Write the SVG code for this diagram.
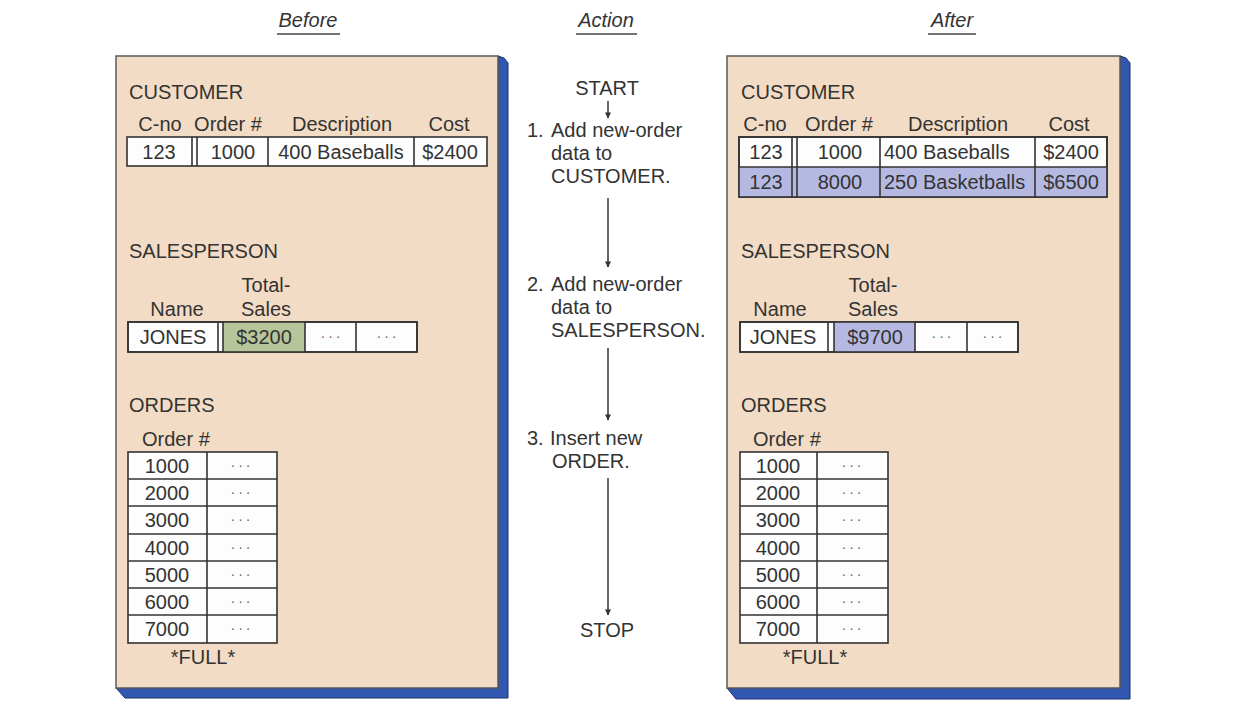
<svg xmlns="http://www.w3.org/2000/svg" width="1254" height="702" viewBox="0 0 1254 702">
<defs>
<style>
text{font-family:"Liberation Sans",Arial,sans-serif;font-size:20px;fill:#333}
.c{text-anchor:middle}
.hd{font-style:italic;text-anchor:middle}
.dots{font-size:14px;fill:#666;text-anchor:middle;letter-spacing:3px}
.front{fill:#f3dcc5;stroke:#5a5a5a;stroke-width:1.5}
.side{fill:#3158b0;stroke:#1d2f6a;stroke-width:1}
.cell{fill:#fdfdfd;stroke:#333;stroke-width:1.6}
.ln{stroke:#333;stroke-width:1.6}
.grn{fill:#b7c59b}
.blu{fill:#b5b9e2}
.ul{stroke:#444;stroke-width:1.3}
.arr{stroke:#333;stroke-width:1.5;fill:none;marker-end:url(#ah)}
</style>
<marker id="ah" viewBox="0 0 10 10" refX="9" refY="5" markerWidth="10" markerHeight="6" markerUnits="userSpaceOnUse" orient="auto" overflow="visible">
<path d="M0,0 L10,5 L0,10 z" fill="#333"/>
</marker>
</defs>
<rect width="1254" height="702" fill="#ffffff"/>

<g id="headers">
<text class="hd" x="308" y="27">Before</text>
<line class="ul" x1="277" y1="34" x2="340" y2="34"/>
<text class="hd" x="606" y="27">Action</text>
<line class="ul" x1="576" y1="34" x2="637" y2="34"/>
<text class="hd" x="952" y="27">After</text>
<line class="ul" x1="928" y1="34" x2="976" y2="34"/>
</g>

<g id="before-panel">
<path class="side" d="M498,56 L504,58 L508,63 L508,698 L125,698 L116,688 L498,688 Z"/>
<rect class="front" x="116" y="56" width="382" height="632"/>
</g>

<g id="before-customer">
<text x="129" y="99">CUSTOMER</text>
<text class="c" x="160" y="131">C-no</text>
<text class="c" x="228" y="131">Order #</text>
<text class="c" x="342" y="131">Description</text>
<text class="c" x="449" y="131">Cost</text>
<rect class="cell" x="127" y="137" width="360" height="29"/>
<line class="ln" x1="192" y1="137" x2="192" y2="166"/>
<line class="ln" x1="197" y1="137" x2="197" y2="166"/>
<line class="ln" x1="268" y1="137" x2="268" y2="166"/>
<line class="ln" x1="414" y1="137" x2="414" y2="166"/>
<text class="c" x="159" y="159">123</text>
<text class="c" x="233" y="159">1000</text>
<text class="c" x="341" y="159">400 Baseballs</text>
<text class="c" x="450" y="159">$2400</text>
</g>

<g id="before-salesperson">
<text x="129" y="258">SALESPERSON</text>
<text class="c" x="266" y="292">Total-</text>
<text class="c" x="177" y="316">Name</text>
<text class="c" x="266" y="316">Sales</text>
<rect class="cell" x="128" y="322" width="289" height="30"/>
<rect class="grn" x="223" y="322" width="82" height="30"/>
<rect x="128" y="322" width="289" height="30" fill="none" stroke="#333" stroke-width="1.6"/>
<line class="ln" x1="218" y1="322" x2="218" y2="352"/>
<line class="ln" x1="223" y1="322" x2="223" y2="352"/>
<line class="ln" x1="305" y1="322" x2="305" y2="352"/>
<line class="ln" x1="356" y1="322" x2="356" y2="352"/>
<text class="c" x="173" y="344">JONES</text>
<text class="c" x="264" y="344">$3200</text>
<text class="dots" x="332" y="341">···</text>
<text class="dots" x="388" y="341">···</text>
</g>

<g id="before-orders">
<text x="129" y="412">ORDERS</text>
<text x="142" y="446">Order #</text>
<rect class="cell" x="128" y="452" width="149" height="191"/>
<line class="ln" x1="207" y1="452" x2="207" y2="643"/>
<line class="ln" x1="128" y1="479" x2="277" y2="479"/>
<line class="ln" x1="128" y1="506" x2="277" y2="506"/>
<line class="ln" x1="128" y1="534" x2="277" y2="534"/>
<line class="ln" x1="128" y1="561" x2="277" y2="561"/>
<line class="ln" x1="128" y1="588" x2="277" y2="588"/>
<line class="ln" x1="128" y1="615" x2="277" y2="615"/>
<text class="c" x="167" y="473">1000</text>
<text class="c" x="167" y="500">2000</text>
<text class="c" x="167" y="527">3000</text>
<text class="c" x="167" y="555">4000</text>
<text class="c" x="167" y="582">5000</text>
<text class="c" x="167" y="609">6000</text>
<text class="c" x="167" y="636">7000</text>
<text class="dots" x="242" y="470">···</text>
<text class="dots" x="242" y="497">···</text>
<text class="dots" x="242" y="524">···</text>
<text class="dots" x="242" y="552">···</text>
<text class="dots" x="242" y="579">···</text>
<text class="dots" x="242" y="606">···</text>
<text class="dots" x="242" y="633">···</text>
<text class="c" x="203" y="664">*FULL*</text>
</g>

<g id="action">
<text class="c" x="607" y="95">START</text>
<text x="527" y="137">1.</text>
<text x="551" y="137">Add new-order</text>
<text x="551" y="160">data to</text>
<text x="551" y="183">CUSTOMER.</text>
<text x="527" y="291">2.</text>
<text x="551" y="291">Add new-order</text>
<text x="551" y="314">data to</text>
<text x="551" y="337">SALESPERSON.</text>
<text x="527" y="445">3.</text>
<text x="550" y="445">Insert new</text>
<text x="552" y="468">ORDER.</text>
<text class="c" x="607" y="637">STOP</text>
</g>

<g id="connectors">
<line class="arr" x1="608" y1="101" x2="608" y2="118"/>
<line class="arr" x1="608" y1="198" x2="608" y2="267"/>
<line class="arr" x1="608" y1="348" x2="608" y2="420"/>
<line class="arr" x1="608" y1="478" x2="608" y2="615"/>
</g>

<g id="after-panel">
<path class="side" d="M1120,56 L1126,58 L1130,63 L1130,699 L736,699 L727,688 L1120,688 Z"/>
<rect class="front" x="727" y="56" width="393" height="632"/>
</g>

<g id="after-customer">
<text x="741" y="99">CUSTOMER</text>
<text class="c" x="765" y="131">C-no</text>
<text class="c" x="839" y="131">Order #</text>
<text class="c" x="958" y="131">Description</text>
<text class="c" x="1069" y="131">Cost</text>
<rect class="cell" x="739" y="137" width="368" height="60"/>
<rect class="blu" x="739" y="167" width="368" height="30"/>
<rect x="739" y="137" width="368" height="60" fill="none" stroke="#333" stroke-width="1.6"/>
<line class="ln" x1="739" y1="167" x2="1107" y2="167"/>
<line class="ln" x1="792" y1="137" x2="792" y2="197"/>
<line class="ln" x1="797" y1="137" x2="797" y2="197"/>
<line class="ln" x1="880" y1="137" x2="880" y2="197"/>
<line class="ln" x1="1035" y1="137" x2="1035" y2="197"/>
<text class="c" x="766" y="159">123</text>
<text class="c" x="840" y="159">1000</text>
<text x="884" y="159">400 Baseballs</text>
<text class="c" x="1071" y="159">$2400</text>
<text class="c" x="766" y="189">123</text>
<text class="c" x="840" y="189">8000</text>
<text x="884" y="189">250 Basketballs</text>
<text class="c" x="1071" y="189">$6500</text>
</g>

<g id="after-salesperson">
<text x="741" y="258">SALESPERSON</text>
<text class="c" x="873" y="292">Total-</text>
<text class="c" x="780" y="316">Name</text>
<text class="c" x="873" y="316">Sales</text>
<rect class="cell" x="740" y="322" width="278" height="30"/>
<rect class="blu" x="834" y="322" width="81" height="30"/>
<rect x="740" y="322" width="278" height="30" fill="none" stroke="#333" stroke-width="1.6"/>
<line class="ln" x1="828" y1="322" x2="828" y2="352"/>
<line class="ln" x1="834" y1="322" x2="834" y2="352"/>
<line class="ln" x1="915" y1="322" x2="915" y2="352"/>
<line class="ln" x1="967" y1="322" x2="967" y2="352"/>
<text class="c" x="783" y="344">JONES</text>
<text class="c" x="875" y="344">$9700</text>
<text class="dots" x="943" y="341">···</text>
<text class="dots" x="994" y="341">···</text>
</g>

<g id="after-orders">
<text x="741" y="412">ORDERS</text>
<text x="753" y="446">Order #</text>
<rect class="cell" x="740" y="452" width="148" height="191"/>
<line class="ln" x1="817" y1="452" x2="817" y2="643"/>
<line class="ln" x1="740" y1="479" x2="888" y2="479"/>
<line class="ln" x1="740" y1="506" x2="888" y2="506"/>
<line class="ln" x1="740" y1="534" x2="888" y2="534"/>
<line class="ln" x1="740" y1="561" x2="888" y2="561"/>
<line class="ln" x1="740" y1="588" x2="888" y2="588"/>
<line class="ln" x1="740" y1="615" x2="888" y2="615"/>
<text class="c" x="778" y="473">1000</text>
<text class="c" x="778" y="500">2000</text>
<text class="c" x="778" y="527">3000</text>
<text class="c" x="778" y="555">4000</text>
<text class="c" x="778" y="582">5000</text>
<text class="c" x="778" y="609">6000</text>
<text class="c" x="778" y="636">7000</text>
<text class="dots" x="853" y="470">···</text>
<text class="dots" x="853" y="497">···</text>
<text class="dots" x="853" y="524">···</text>
<text class="dots" x="853" y="552">···</text>
<text class="dots" x="853" y="579">···</text>
<text class="dots" x="853" y="606">···</text>
<text class="dots" x="853" y="633">···</text>
<text class="c" x="815" y="664">*FULL*</text>
</g>
</svg>
